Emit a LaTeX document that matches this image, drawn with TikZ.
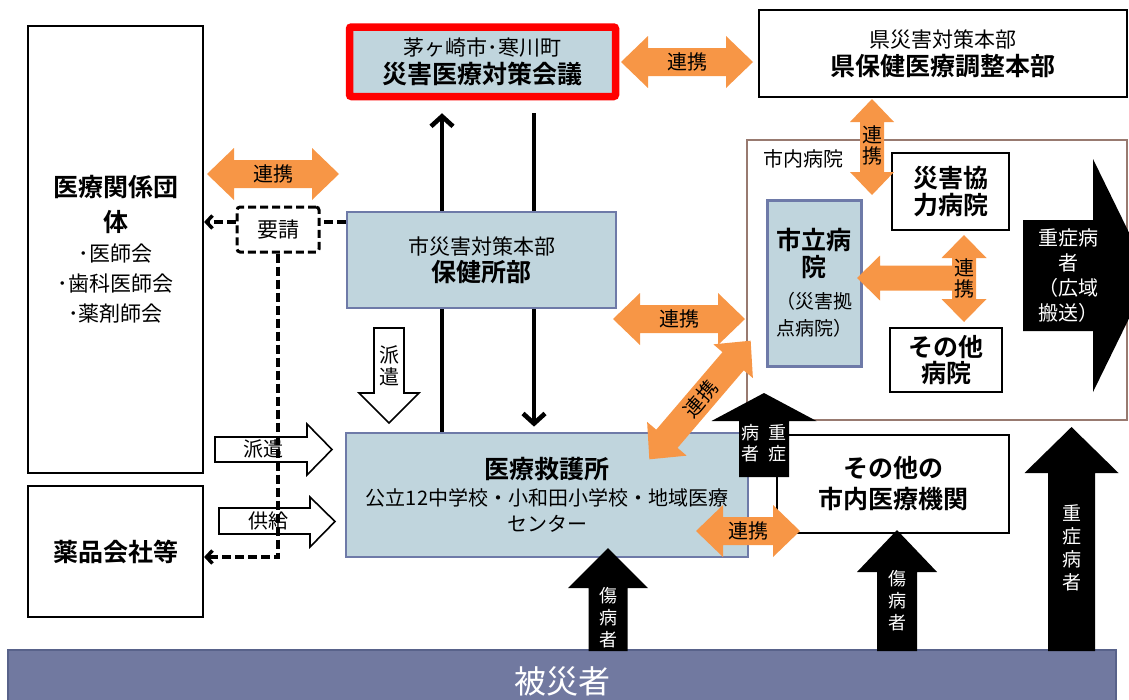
\documentclass[tikz,border=0pt]{standalone}
\usepackage{fontspec}
\setmainfont{Noto Sans CJK JP}[BoldFont={Noto Sans CJK JP Bold}]
\usetikzlibrary{arrows.meta,calc}
\definecolor{lblue}{RGB}{192,213,221}
\definecolor{bborder}{RGB}{110,122,168}
\definecolor{orng}{RGB}{247,150,70}
\definecolor{brn}{RGB}{152,122,112}
\definecolor{barfill}{RGB}{113,121,160}
\definecolor{barline}{RGB}{88,98,138}
\newcommand{\fs}[2]{\fontsize{#1}{#2}\selectfont}
\newcommand{\hdbl}[3]{% x1, x2, y : horizontal double block arrow
  \fill[orng] (#1,#3) -- ({#1+27},{#3-26}) -- ({#1+27},{#3-14}) -- ({#2-27},{#3-14}) -- ({#2-27},{#3-26}) -- (#2,#3) -- ({#2-27},{#3+26}) -- ({#2-27},{#3+14}) -- ({#1+27},{#3+14}) -- ({#1+27},{#3+26}) -- cycle;}
\newcommand{\uparr}[6]{% cx, tip, base, bottom, headhalf, bodyhalf
  \fill[black] (#1,#2) -- ({#1+#5},#3) -- ({#1+#6},#3) -- ({#1+#6},#4) -- ({#1-#6},#4) -- ({#1-#6},#3) -- ({#1-#5},#3) -- cycle;}
\pgfdeclarelayer{bg}
\pgfsetlayers{bg,main}
\begin{document}
\begin{tikzpicture}[x=1pt,y=-1pt,
  box/.style={draw=black, line width=2.2pt, inner sep=0pt, align=center, fill=white},
  bluebox/.style={box, draw=bborder, fill=lblue, line width=2.8pt},
  lbl/.style={inner sep=0pt, align=center, font=\fs{20}{21}},
  vlbl/.style={inner sep=0pt, align=center, font=\fs{20}{21}},
  wlbl/.style={inner sep=0pt, align=center, text=white, font=\fs{18}{22}},
  warr/.style={draw=black, fill=white, line width=1.6pt},
  dsh/.style={line width=3.5pt, dash pattern=on 9pt off 4pt},
  conn/.style={line width=4.6pt},
  barb/.style={-{Straight Barb[length=10pt,width=22pt]}},
  sbarb/.style={-{Straight Barb[length=6pt,width=13pt]}}]
\useasboundingbox (0,0) rectangle (1129,699);
\clip (0,0) rectangle (1129,699);

% region box: hospitals in the city
\node[draw=brn, line width=2.8pt, minimum width=380, minimum height=280, inner sep=0pt] (shinai) at (937,280) {};
\node[inner sep=0pt, font=\fs{20}{20}] (shinailbl) at (803,159) {市内病院};

% boxes
\node[box, minimum width=175, minimum height=447, font=\fs{21}{30}] (dantai) at (115.5,249.5)
  {{\bfseries\fs{25}{30}医療関係団}\\[5pt]{\bfseries\fs{25}{30}体}\\･医師会\\･歯科医師会\\･薬剤師会};
\node[box, minimum width=175, minimum height=131, font=\bfseries\fs{25}{27}] (yakuhin) at (115.5,551.5) {薬品会社等};
\node[box, draw=red, fill=lblue, line width=7.5pt, rounded corners=2pt, minimum width=266, minimum height=69.5, font=\fs{21}{28}] (kaigi) at (482.5,61.75)
  {茅ヶ崎市･寒川町\\{\bfseries\fs{25}{28}災害医療対策会議}};
\node[bluebox, minimum width=269, minimum height=96, font=\fs{21}{27}] (hokenjo) at (481.5,260)
  {市災害対策本部\\{\bfseries\fs{25}{27}保健所部}};
\node[bluebox, minimum width=402, minimum height=124, font=\fs{20}{26.5}] (kyugo) at (547,495)
  {{\bfseries\fs{25}{27}医療救護所}\\公立12中学校・小和田小学校・地域医療\\センター};
\node[box, minimum width=368, minimum height=87, font=\fs{21}{28}] (ken) at (943,53.5)
  {県災害対策本部\\{\bfseries\fs{25}{28}県保健医療調整本部}};
\node[box, minimum width=117, minimum height=77, font=\bfseries\fs{25}{27}] (kyoryoku) at (950.5,191.5) {災害協\\力病院};
\node[bluebox, line width=3pt, minimum width=94, minimum height=166, font=\fs{19}{27}] (shiritsu) at (814,283)
  {{\bfseries\fs{25}{27}市立病}\\{\bfseries\fs{25}{27}院}\\[5pt]（災害拠\\点病院）};
\node[box, minimum width=112, minimum height=64, font=\bfseries\fs{25}{26}] (sonota) at (946,360) {その他\\病院};
\node[box, minimum width=232, minimum height=98, font=\bfseries\fs{25}{31}] (sonotairyo) at (893,484) {その他の\\市内医療機関};
\node[draw=black, line width=3pt, dash pattern=on 8pt off 4pt, rounded corners=3pt, minimum width=82, minimum height=45, inner sep=0pt, fill=white, font=\fs{21}{21}] (yosei) at (278,229.5) {要請};
\node[draw=barline, fill=barfill, line width=2pt, minimum width=1108, minimum height=62, inner sep=0pt, text=white, font=\fs{32}{32}] (hisaisha) at (562,681) {被災者};

% solid connectors between council and field (behind boxes)
\begin{pgfonlayer}{bg}
\draw[conn, barb, shorten >=13pt] ([xshift=-105pt]kyugo.north) -- ([xshift=-40.5pt]kaigi.south);
\draw[conn, barb, shorten <=13pt, shorten >=5pt] ([xshift=51.5pt]kaigi.south) -- ([xshift=-13pt]kyugo.north);
\end{pgfonlayer}

% orange cooperation arrows
\hdbl{621}{753}{62}
\hdbl{207}{339}{174}
\hdbl{613}{745}{319}
\hdbl{696}{800}{531}
\fill[orng] (872,99) -- (894,122) -- (884,122) -- (884,172) -- (894,172) -- (872,195) -- (850,172) -- (860,172) -- (860,122) -- (850,122) -- cycle;
\fill[orng] (964,235) -- (986.5,258) -- (976,258) -- (976,299) -- (986.5,299) -- (964,322) -- (941.5,299) -- (952,299) -- (952,290.5) -- (880,290.5) -- (880,300.5) -- (857,278) -- (880,255.5) -- (880,265.5) -- (952,265.5) -- (952,258) -- (941.5,258) -- cycle;
\begin{scope}[shift={(700,400)}, rotate=49.5]
\fill[orng] (-78,0) -- (-51,-26) -- (-51,-14) -- (51,-14) -- (51,-26) -- (78,0) -- (51,26) -- (51,14) -- (-51,14) -- (-51,26) -- cycle;
\end{scope}

% black patient arrows
\uparr{608}{548}{588}{651}{40}{19.5}
\uparr{764}{393}{421}{477}{52.5}{25}
\uparr{897}{530}{572}{651}{40}{20}
\uparr{1071.5}{427}{473}{651}{47}{23.5}
\fill[black] (1023,220) -- (1093,220) -- (1093,159) -- (1150,275.5) -- (1093,392) -- (1093,331) -- (1023,331) -- cycle;

% white outlined dispatch / supply arrows
\draw[warr] (374,328) -- (404,328) -- (404,393) -- (419,393) -- (389,423) -- (359,393) -- (374,393) -- cycle;
\draw[warr] (215,437) -- (307,437) -- (307,424) -- (332,449.5) -- (307,475) -- (307,462) -- (215,462) -- cycle;
\draw[warr] (219,508) -- (310,508) -- (310,497) -- (335,521.5) -- (310,547) -- (310,534) -- (219,534) -- cycle;

% dashed request lines
\coordinate (yeast) at ($(yosei.east)+(0,-7.5)$);
\coordinate (ywest) at ($(yosei.west)+(0,-7.5)$);
\coordinate (yk) at ($(yakuhin.east)+(0,5.5)$);
\draw[dsh] (yeast -| hokenjo.west) -- (yeast);
\draw[dsh, sbarb] (ywest) -- (ywest -| dantai.east);
\draw[dsh, sbarb] (yosei.south) |- (yk);

% labels
\node[lbl] (r1) at (687,62) {連携};
\node[lbl] (r2) at (273,174) {連携};
\node[lbl] (r3) at (679,319) {連携};
\node[vlbl] (r4) at (872,145) {連\\携};
\node[vlbl] (r5) at (964,278.5) {連\\携};
\node[lbl, rotate=49.5] (r6) at (701,399) {連携};
\node[lbl] (r7) at (748,531) {連携};
\node[inner sep=0pt, align=center, font=\fs{20}{22}] (hk1) at (389,366) {派\\遣};
\node[inner sep=0pt, font=\fs{20}{20}] (hk2) at (263,449) {派遣};
\node[inner sep=0pt, font=\fs{20}{20}] (kk) at (268,521) {供給};
\node[wlbl] (w1) at (608,618) {傷\\病\\者};
\node[wlbl, font=\fs{18}{21}] (w2a) at (777,443) {重\\症};
\node[wlbl, font=\fs{18}{21}] (w2b) at (750,443) {病\\者};
\node[wlbl] (w3) at (897,601) {傷\\病\\者};
\node[wlbl, font=\fs{19}{23}] (w4) at (1071.5,548) {重\\症\\病\\者};
\node[wlbl, font=\fs{20}{25}] (w5) at (1068,276) {重症病\\者\\（広域\\搬送）};
\end{tikzpicture}
\end{document}
